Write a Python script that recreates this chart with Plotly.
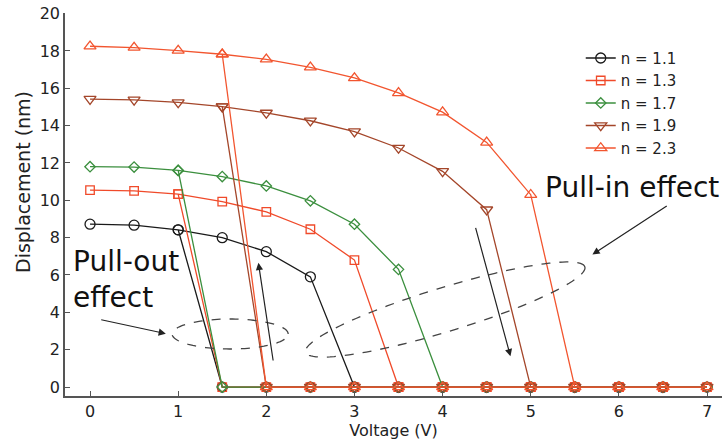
import numpy as np
import plotly.graph_objects as go

# ---------------- data ----------------
voltage_step = 0.5
v_max = 7.0
labels = ["n = 1.1", "n = 1.3", "n = 1.7", "n = 1.9", "n = 2.3"]
# upper (non-collapsed) branch, starting at 0 V, one value every 0.5 V
upper_n11 = [8.72, 8.67, 8.42, 8.0, 7.25, 5.9]
upper_n13 = [10.55, 10.5, 10.33, 9.93, 9.38, 8.45, 6.8]
upper_n17 = [11.8, 11.78, 11.6, 11.27, 10.77, 9.97, 8.72, 6.3]
upper_n19 = [15.42, 15.38, 15.24, 15.02, 14.68, 14.26, 13.68, 12.8, 11.55, 9.5]
upper_n23 = [18.25, 18.18, 18.02, 17.82, 17.55, 17.12, 16.55, 15.75, 14.72, 13.1, 10.3]
uppers = [upper_n11, upper_n13, upper_n17, upper_n19, upper_n23]
# voltage where the upper branch is left on the way back (pull-out)
pull_out_from = [1.0, 1.0, 1.0, 1.5, 1.5]
colors = ["#1a1a1a", "#f04a2a", "#3b8f3e", "#a4462a", "#f2552f"]
symbols = ["circle-open", "square-open", "diamond-open", "triangle-down-open", "triangle-up-open"]
marker_sizes = [10, 8.5, 8, 10.5, 10.5]

FONT = "DejaVu Sans"

fig = go.Figure()
for lab, up, po, col, sym, ms in zip(labels, uppers, pull_out_from, colors, symbols, marker_sizes):
    up = list(up)
    n_up = len(up)
    x_up = [i * voltage_step for i in range(n_up)]
    # forward sweep: upper branch then collapsed (zero) branch to v_max
    x_zero = list(np.arange(n_up * voltage_step, v_max + 1e-9, voltage_step))
    # backward sweep: along zero until pull-out, then jump back to upper branch
    x_back = list(np.arange(v_max - voltage_step, po + voltage_step - 1e-9, -voltage_step))
    i_po = int(round(po / voltage_step))
    xs = x_up + x_zero + x_back + [po]
    ys = up + [0.0] * len(x_zero) + [0.0] * len(x_back) + [up[i_po]]
    fig.add_trace(go.Scatter(
        x=xs, y=ys, mode="lines+markers", name=lab,
        line=dict(color=col, width=1.3),
        marker=dict(symbol=sym, size=ms, color=col, line=dict(width=1.3, color=col)),
    ))

# --------------- annotation geometry (dashed ellipses) ---------------
def ellipse_path(cx, cy, rx_px, ry_px, ang_deg, sx, sy):
    t = np.linspace(0, 2 * np.pi, 120)
    a = np.deg2rad(ang_deg)
    px = rx_px * np.cos(t) * np.cos(a) - ry_px * np.sin(t) * np.sin(a)
    py = rx_px * np.cos(t) * np.sin(a) + ry_px * np.sin(t) * np.cos(a)
    xs = cx + px / sx
    ys = cy + py / sy
    return "M " + " L ".join(f"{x:.4f},{y:.4f}" for x, y in zip(xs, ys)) + " Z"

X_RANGE = [-0.284, 7.17]
Y_RANGE = [-0.48, 20.03]
L, R, T, B = 65, 1, 13, 44
W, H = 723, 440
sx = (W - L - R) / (X_RANGE[1] - X_RANGE[0])
sy = (H - T - B) / (Y_RANGE[1] - Y_RANGE[0])

fig.add_shape(type="path", xref="x", yref="y",
              path=ellipse_path(1.59, 2.84, 58, 15, 0, sx, sy),
              line=dict(color="#444", width=1.3, dash="dash"))
fig.add_shape(type="path", xref="x", yref="y",
              path=ellipse_path(4.03, 4.15, 146, 22, 17, sx, sy),
              line=dict(color="#444", width=1.3, dash="dash"))

arrow = dict(showarrow=True, arrowhead=2, arrowsize=1.2, arrowwidth=1.2,
             arrowcolor="#222", axref="x", ayref="y", xref="x", yref="y", text="")
fig.add_annotation(x=0.86, y=2.86, ax=0.11, ay=3.62, **arrow)
fig.add_annotation(x=1.91, y=6.65, ax=2.08, ay=1.34, **arrow)
fig.add_annotation(x=4.77, y=1.65, ax=4.37, ay=8.6, **arrow)
fig.add_annotation(x=5.7, y=7.1, ax=6.56, ay=9.75, **arrow)

fig.add_annotation(x=-0.22, y=7.72, xref="x", yref="y", text="Pull-out<br>effect",
                   showarrow=False, xanchor="left", yanchor="top", align="left",
                   font=dict(family=FONT, size=28, color="#111"))
fig.add_annotation(x=5.14, y=11.66, xref="x", yref="y", text="Pull-in effect",
                   showarrow=False, xanchor="left", yanchor="top", align="left",
                   font=dict(family=FONT, size=28, color="#111"))

# y-axis title (placed slightly above centre as in the reference)
fig.add_annotation(x=(23 - L) / (W - L - R), y=1 - (182 - T) / (H - T - B),
                   xref="paper", yref="paper", text="Displacement (nm)",
                   textangle=-90, showarrow=False, xanchor="center", yanchor="middle",
                   font=dict(family=FONT, size=19, color="#222"))

fig.update_layout(
    width=W, height=H,
    margin=dict(l=L, r=R, t=T, b=B),
    paper_bgcolor="white", plot_bgcolor="white",
    font=dict(family=FONT, size=16, color="#222"),
    showlegend=True,
    legend=dict(x=0.785, y=0.925, xanchor="left", yanchor="top",
                bgcolor="rgba(0,0,0,0)", font=dict(size=15), itemwidth=30,
                tracegroupgap=0),
)
fig.update_xaxes(range=X_RANGE, tickvals=[0, 1, 2, 3, 4, 5, 6, 7],
                 ticks="inside", ticklen=5, tickcolor="#555",
                 showline=True, linecolor="#555", linewidth=1.5, mirror=False,
                 showgrid=False, zeroline=False,
                 title=dict(text="Voltage (V)", standoff=1, font=dict(size=16)))
fig.update_yaxes(range=Y_RANGE, tickvals=list(range(0, 21, 2)),
                 ticks="inside", ticklen=5, tickcolor="#555",
                 showline=True, linecolor="#555", linewidth=1.5, mirror=False,
                 showgrid=False, zeroline=False)

fig.write_html("out.html")
